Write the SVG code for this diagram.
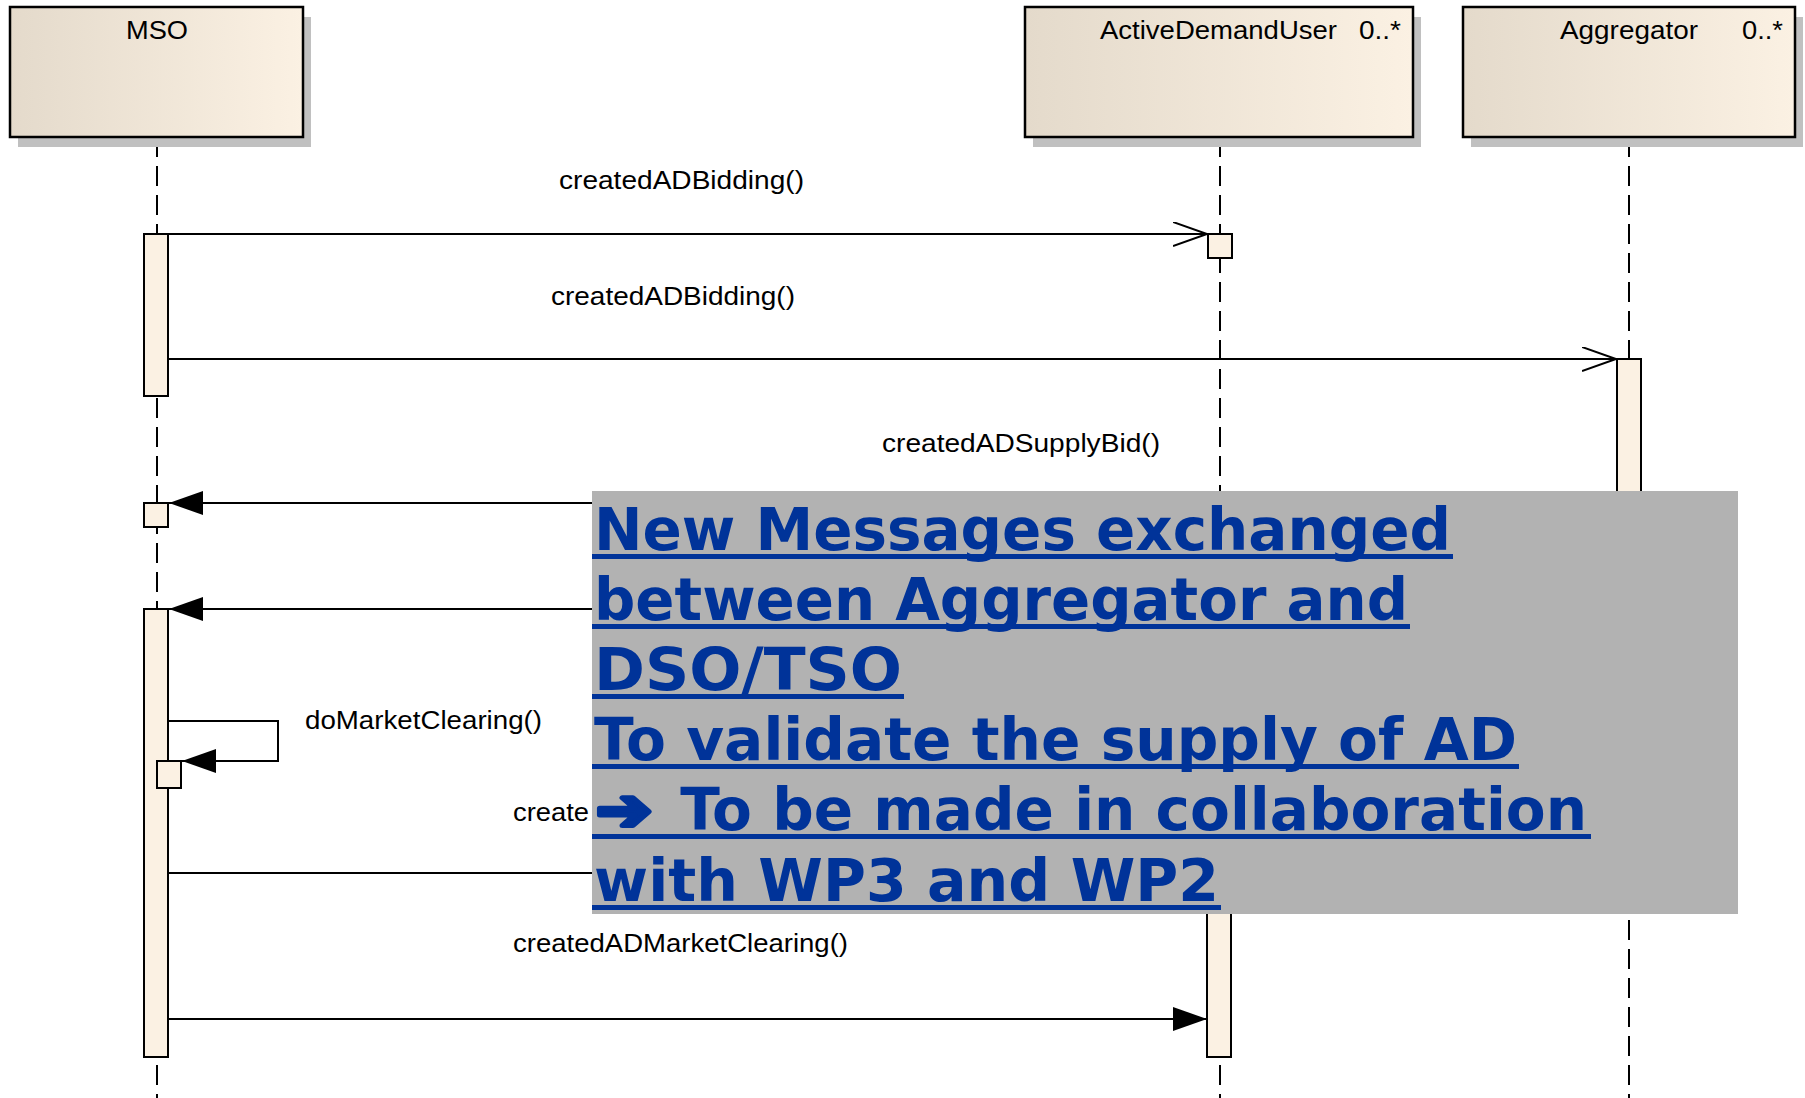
<svg xmlns="http://www.w3.org/2000/svg" width="1805" height="1098" viewBox="0 0 1805 1098">
<style>
.bg{fill:#ffffff}
.shadow{fill:#c0c0c0}
.head{fill:url(#hg);stroke:#000;stroke-width:2.5}
.life{stroke:#000;stroke-width:2;stroke-dasharray:20 9;fill:none}
.act{fill:#fbf1e3;stroke:#000;stroke-width:2}
.lbl{font-family:"Liberation Sans",Arial,sans-serif;font-size:25px;fill:#000}
.msg{stroke:#000;stroke-width:2;fill:none}
.note{fill:#b2b2b2}
.nt{font-family:"DejaVu Sans",Verdana,sans-serif;font-weight:bold;font-size:58px;fill:#003399}
.arw{stroke:#003399;stroke-width:5;stroke-linejoin:round}
.ul{fill:#003399}
</style>
<defs>
<linearGradient id="hg" x1="0" y1="0" x2="1" y2="0">
<stop offset="0" stop-color="#e4dacb"/>
<stop offset="1" stop-color="#fbf1e3"/>
</linearGradient>
<marker id="open" markerUnits="userSpaceOnUse" markerWidth="40" markerHeight="30" refX="34" refY="12" orient="auto">
<path d="M0,0 L34,12 L0,24" fill="none" stroke="#000" stroke-width="2"/>
</marker>
<marker id="filled" markerUnits="userSpaceOnUse" markerWidth="40" markerHeight="30" refX="34" refY="12" orient="auto">
<path d="M0,0 L34,12 L0,24 Z" fill="#000"/>
</marker>
</defs>
<rect class="bg" x="0" y="0" width="1805" height="1098"/>

<g id="MSO">
<line class="life" x1="157" y1="137" x2="157" y2="1098"/>
<rect class="shadow" x="18" y="17" width="293" height="130"/>
<rect class="head" x="10" y="7" width="293" height="130"/>
<text class="lbl" x="126" y="39" textLength="62" lengthAdjust="spacingAndGlyphs">MSO</text>
<rect class="act" x="144" y="234" width="24" height="162"/>
<rect class="act" x="144" y="503" width="24" height="24"/>
<rect class="act" x="144" y="609" width="24" height="448"/>
<rect class="act" x="157" y="761" width="24" height="27"/>
</g>

<g id="ActiveDemandUser">
<line class="life" x1="1220" y1="137" x2="1220" y2="1098"/>
<rect class="shadow" x="1033" y="17" width="388" height="130"/>
<rect class="head" x="1025" y="7" width="388" height="130"/>
<text class="lbl" y="39"><tspan x="1100" textLength="237" lengthAdjust="spacingAndGlyphs">ActiveDemandUser</tspan><tspan x="1359" textLength="42" lengthAdjust="spacingAndGlyphs">0..*</tspan></text>
<rect class="act" x="1208" y="234" width="24" height="24"/>
<rect class="act" x="1207" y="873" width="24" height="184"/>
</g>

<g id="Aggregator">
<line class="life" x1="1629" y1="137" x2="1629" y2="1098"/>
<rect class="shadow" x="1471" y="17" width="332" height="130"/>
<rect class="head" x="1463" y="7" width="332" height="130"/>
<text class="lbl" y="39"><tspan x="1560" textLength="138" lengthAdjust="spacingAndGlyphs">Aggregator</tspan><tspan x="1742" textLength="41" lengthAdjust="spacingAndGlyphs">0..*</tspan></text>
<rect class="act" x="1617" y="359" width="24" height="360"/>
</g>

<g id="connectors">
<path class="msg" d="M168,234 H1207" marker-end="url(#open)"/>
<text class="lbl" x="559" y="189" textLength="245" lengthAdjust="spacingAndGlyphs">createdADBidding()</text>
<path class="msg" d="M168,359 H1616" marker-end="url(#open)"/>
<text class="lbl" x="551" y="305" textLength="244" lengthAdjust="spacingAndGlyphs">createdADBidding()</text>
<path class="msg" d="M1616,503 H169" marker-end="url(#filled)"/>
<text class="lbl" x="882" y="452" textLength="278" lengthAdjust="spacingAndGlyphs">createdADSupplyBid()</text>
<path class="msg" d="M1616,609 H169" marker-end="url(#filled)"/>
<path class="msg" d="M168,721 H278 V761 H182" marker-end="url(#filled)"/>
<text class="lbl" x="305" y="729" textLength="237" lengthAdjust="spacingAndGlyphs">doMarketClearing()</text>
<path class="msg" d="M168,873 H1616" marker-end="url(#filled)"/>
<text class="lbl" x="513" y="821" textLength="76" lengthAdjust="spacingAndGlyphs">create</text>
<path class="msg" d="M168,1019 H1207" marker-end="url(#filled)"/>
<text class="lbl" x="513" y="952" textLength="335" lengthAdjust="spacingAndGlyphs">createdADMarketClearing()</text>
</g>

<g id="note">
<rect class="note" x="592" y="491" width="1146" height="423"/>
<text class="nt" x="594" y="550" textLength="857" lengthAdjust="spacingAndGlyphs">New Messages exchanged</text>
<rect class="ul" x="592" y="554" width="861" height="5"/>
<text class="nt" x="594" y="620" textLength="814" lengthAdjust="spacingAndGlyphs">between Aggregator and</text>
<rect class="ul" x="592" y="624" width="818" height="5"/>
<text class="nt" x="594" y="690" textLength="308" lengthAdjust="spacingAndGlyphs">DSO/TSO</text>
<rect class="ul" x="592" y="694" width="312" height="5"/>
<text class="nt" x="594" y="760" textLength="923" lengthAdjust="spacingAndGlyphs">To validate the supply of AD</text>
<rect class="ul" x="592" y="764" width="927" height="5"/>
<text class="nt" x="596" y="830"><tspan class="arw" textLength="56" lengthAdjust="spacingAndGlyphs">➔</tspan><tspan x="660" textLength="927" lengthAdjust="spacingAndGlyphs"> To be made in collaboration</tspan></text>
<rect class="ul" x="592" y="834" width="999" height="5"/>
<text class="nt" x="594" y="901" textLength="625" lengthAdjust="spacingAndGlyphs">with WP3 and WP2</text>
<rect class="ul" x="592" y="905" width="629" height="5"/>
</g>
</svg>
